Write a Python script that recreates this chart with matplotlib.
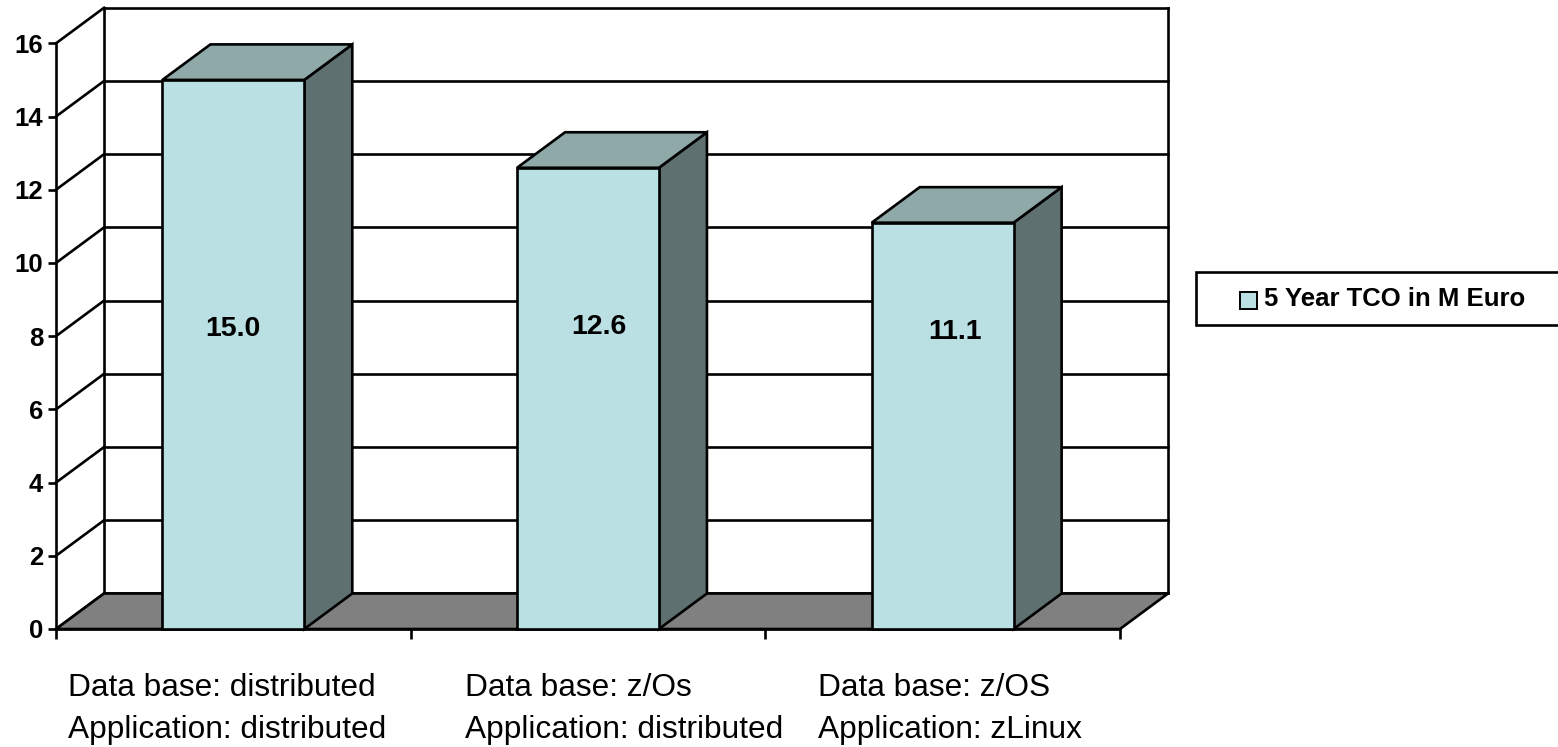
import matplotlib
matplotlib.use("Agg")
import matplotlib.pyplot as plt
from matplotlib.patches import Polygon, Rectangle

plt.rcParams['font.family'] = ['Liberation Sans', 'DejaVu Sans']

# data
categories = [
    ("Data base: distributed", "Application: distributed"),
    ("Data base: z/Os", "Application: distributed"),
    ("Data base: z/OS", "Application: zLinux"),
]
tco_values = [15.0, 12.6, 11.1]
series_name = "5 Year TCO in M Euro"
y_ticks = list(range(0, 17, 2))

# style
W, H = 1558, 747
front_c = "#bae0e4"
side_c = "#5f7070"
top_c = "#8fa8a8"
floor_c = "#808080"
lw = 1.9
dx, dv = 0.1354, 0.97          # oblique depth offset (cat units, value units)
bar_lo, bar_hi = 0.30, 0.70    # bar front face within its category slot
label_dx = [0.0, 0.03, 0.035]
label_y = [8.2, 8.25, 8.1]
cat_text_x = [0.034, 0.154, 0.149]

fig = plt.figure(figsize=(W / 100, H / 100), dpi=100)
ax = fig.add_axes([56 / W, (H - 629) / H, (1120 - 56) / W, (629 - 43.3) / H])
ax.set_xlim(0, 3)
ax.set_ylim(0, 16)
ax.patch.set_visible(False)
for s in ("top", "right"):
    ax.spines[s].set_visible(False)
for s in ("left", "bottom"):
    ax.spines[s].set_linewidth(lw)

ax.set_yticks(y_ticks)
ax.set_yticklabels([str(t) for t in y_ticks], fontweight="bold", fontsize=18.5)
ax.tick_params(axis="y", length=5.8, width=lw, pad=3.5)
ax.set_xticks([0, 1, 2, 3])
ax.set_xticklabels([])
ax.tick_params(axis="x", length=7.2, width=lw)

n = len(tco_values)

# back wall + gridlines + side wall diagonals
for t in y_ticks:
    ax.plot([dx, n + dx], [t + dv, t + dv], color="black", lw=lw, clip_on=False, zorder=1)
    ax.plot([0, dx], [t, t + dv], color="black", lw=lw, clip_on=False, zorder=1)
ax.plot([dx, dx], [dv, 16 + dv], color="black", lw=lw, clip_on=False, zorder=1)
ax.plot([n + dx, n + dx], [dv, 16 + dv], color="black", lw=lw, clip_on=False, zorder=1)

# floor
ax.add_patch(Polygon([(0, 0), (n, 0), (n + dx, dv), (dx, dv)], closed=True,
                     facecolor=floor_c, edgecolor="black", lw=lw, clip_on=False, zorder=2))

# bars
for i, v in enumerate(tco_values):
    x0, x1 = i + bar_lo, i + bar_hi
    side = [(x1, 0), (x1 + dx, dv), (x1 + dx, v + dv), (x1, v)]
    top = [(x0, v), (x1, v), (x1 + dx, v + dv), (x0 + dx, v + dv)]
    front = [(x0, 0), (x1, 0), (x1, v), (x0, v)]
    for pts, c in ((side, side_c), (top, top_c), (front, front_c)):
        ax.add_patch(Polygon(pts, closed=True, facecolor=c, edgecolor="black",
                             lw=lw, joinstyle="miter", clip_on=False, zorder=3))
    ax.text((x0 + x1) / 2 + label_dx[i], label_y[i], f"{v:.1f}", ha="center", va="center",
            fontsize=20.5, fontweight="bold", zorder=4)

# category labels
for i, (l1, l2) in enumerate(categories):
    ax.text(i + cat_text_x[i], -1.61, l1, ha="left", va="center", fontsize=22.8, clip_on=False)
    ax.text(i + cat_text_x[i], -2.76, l2, ha="left", va="center", fontsize=22.8, clip_on=False)

# legend (box runs off the right edge like the original)
fig.patches.append(Rectangle((1196 / W, (H - 325) / H), (1570 - 1196) / W, 53 / H,
                             transform=fig.transFigure, facecolor="white",
                             edgecolor="black", lw=lw))
fig.patches.append(Rectangle((1240 / W, (H - 309) / H), 17 / W, 17 / H,
                             transform=fig.transFigure, facecolor=front_c,
                             edgecolor="black", lw=1.4))
fig.text(1264 / W, (H - 299.5) / H, series_name, ha="left", va="center",
         fontsize=18.5, fontweight="bold")

fig.savefig("out.png", dpi=100)
